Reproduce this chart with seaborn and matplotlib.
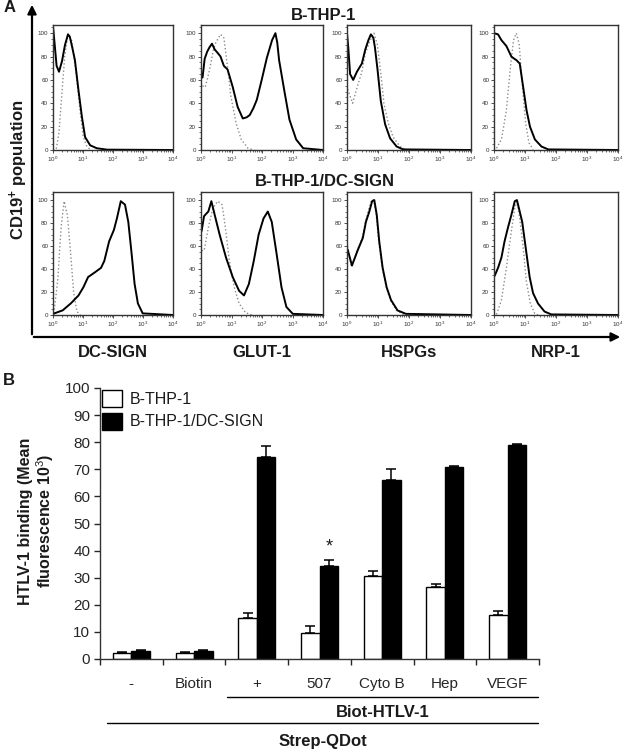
import numpy as np
import pandas as pd
import matplotlib
matplotlib.use("Agg")
import matplotlib.pyplot as plt
import matplotlib.transforms as mtransforms
from matplotlib.patches import FancyArrowPatch, Patch
from matplotlib.ticker import MultipleLocator
import seaborn as sns

# ---------------- Panel A data (x in log10 fluorescence, y in % of max) ----------------
thp_dcsign_solid_x = [0.0, 0.05, 0.12, 0.2, 0.3, 0.4, 0.5, 0.56, 0.64, 0.73, 0.85, 0.96, 1.07, 1.24, 1.46, 1.8, 4.0]
thp_dcsign_solid_y = [106, 92, 72, 67, 76, 90, 99, 97, 88, 77, 51, 29, 11, 4, 1.5, 0.3, 0]
thp_dcsign_dot_x = [0.11, 0.2, 0.28, 0.39, 0.5, 0.55, 0.62, 0.77, 0.9, 1.01, 1.13, 1.24]
thp_dcsign_dot_y = [1, 15, 43, 80, 99, 97, 94, 66, 34, 11, 3, 0.5]

thp_glut_solid_x = [0.0, 0.05, 0.12, 0.2, 0.28, 0.36, 0.45, 0.55, 0.64, 0.75, 0.87, 1.04, 1.2, 1.37, 1.5,
                    1.6, 1.72, 1.83, 1.99, 2.16, 2.33, 2.44, 2.5, 2.56, 2.73, 2.9, 3.12, 3.35, 4.0]
thp_glut_solid_y = [66, 62, 78, 84, 88, 91, 86, 83, 80, 72, 69, 54, 37, 27, 28,
                    30, 36, 43, 60, 79, 94, 100, 92, 77, 51, 26, 9, 1.5, 0]
thp_glut_dot_x = [0.0, 0.08, 0.14, 0.22, 0.3, 0.4, 0.47, 0.55, 0.64, 0.75, 0.87, 0.98, 1.15, 1.32, 1.54, 1.75]
thp_glut_dot_y = [58, 54, 54, 62, 71, 85, 91, 95, 99, 96, 71, 46, 23, 9, 1.5, 0]

thp_hspg_solid_x = [0.0, 0.04, 0.1, 0.2, 0.32, 0.48, 0.59, 0.69, 0.77, 0.85, 0.9, 0.98, 1.09, 1.23, 1.39, 1.6, 1.81, 4.0]
thp_hspg_solid_y = [100, 88, 65, 60, 67, 74, 86, 94, 99, 96, 88, 70, 42, 22, 10, 3, 0.5, 0]
thp_hspg_dot_x = [0.02, 0.18, 0.32, 0.48, 0.59, 0.75, 0.87, 0.98, 1.09, 1.19, 1.33, 1.49, 1.71, 1.92]
thp_hspg_dot_y = [52, 40, 53, 67, 83, 94, 100, 90, 66, 40, 23, 11, 3, 0]

thp_nrp_solid_x = [0.0, 0.13, 0.24, 0.4, 0.56, 0.66, 0.72, 0.83, 0.94, 1.05, 1.16, 1.32, 1.53, 1.75, 4.0]
thp_nrp_solid_y = [100, 99, 94, 89, 80, 78, 77, 74, 54, 34, 20, 9, 3, 0.5, 0]
thp_nrp_dot_x = [0.08, 0.24, 0.4, 0.53, 0.63, 0.72, 0.81, 0.91, 1.02, 1.13, 1.26]
thp_nrp_dot_y = [1.5, 9, 34, 71, 94, 100, 91, 57, 23, 6, 0.5]

dc_dcsign_solid_x = [0.0, 0.32, 0.59, 0.85, 1.01, 1.17, 1.39, 1.6, 1.71, 1.87, 2.03, 2.13, 2.26, 2.4,
                     2.51, 2.61, 2.72, 2.83, 2.99, 4.0]
dc_dcsign_solid_y = [1, 4, 10, 17, 24, 33, 37, 41, 47, 64, 74, 84, 99, 96, 81, 56, 27, 10, 1.4, 0]
dc_dcsign_dot_x = [0.03, 0.16, 0.27, 0.37, 0.48, 0.59, 0.69, 0.8, 0.91]
dc_dcsign_dot_y = [1.4, 31, 76, 99, 87, 53, 19, 3, 0]

dc_glut_solid_x = [0.02, 0.1, 0.24, 0.34, 0.45, 0.61, 0.82, 1.04, 1.25, 1.41, 1.57, 1.73, 1.89, 2.05,
                   2.19, 2.32, 2.48, 2.64, 2.8, 3.01, 4.0]
dc_glut_solid_y = [73, 86, 90, 99, 87, 70, 50, 33, 21, 17, 27, 47, 70, 84, 90, 81, 53, 24, 7, 1, 0]
dc_glut_dot_x = [0.02, 0.1, 0.24, 0.39, 0.55, 0.69, 0.8, 0.93, 1.09, 1.25, 1.46, 1.67]
dc_glut_dot_y = [56, 56, 76, 93, 99, 96, 76, 47, 24, 10, 2, 0]

dc_hspg_solid_x = [0.02, 0.16, 0.34, 0.51, 0.61, 0.72, 0.81, 0.88, 0.96, 1.04, 1.15, 1.28, 1.42, 1.63, 1.9, 4.0]
dc_hspg_solid_y = [57, 43, 56, 67, 81, 90, 99, 100, 87, 64, 41, 24, 13, 4, 1, 0]
dc_hspg_dot_x = [0.02, 0.14, 0.32, 0.5, 0.6, 0.7, 0.79, 0.86, 0.94, 1.02, 1.13, 1.26, 1.4, 1.6, 1.85]
dc_hspg_dot_y = [60, 42, 55, 68, 82, 92, 100, 100, 88, 65, 42, 25, 13, 4, 0]

dc_nrp_solid_x = [0.02, 0.13, 0.24, 0.34, 0.45, 0.56, 0.67, 0.74, 0.83, 0.91, 1.02, 1.15, 1.26, 1.42, 1.63, 1.85, 4.0]
dc_nrp_solid_y = [34, 41, 50, 64, 76, 87, 99, 100, 90, 81, 59, 33, 19, 10, 3, 0.5, 0]
dc_nrp_dot_x = [0.08, 0.24, 0.4, 0.56, 0.67, 0.74, 0.83, 0.94, 1.04, 1.17, 1.31, 1.42]
dc_nrp_dot_y = [0.5, 13, 41, 73, 93, 99, 84, 59, 30, 10, 1.5, 0]

markers = ["DC-SIGN", "GLUT-1", "HSPGs", "NRP-1"]
row_titles = ["B-THP-1", "B-THP-1/DC-SIGN"]
hist_xticks = [1, 10, 100, 1000, 10000]
hist_xticklabels = [r"$10^{0}$", r"$10^{1}$", r"$10^{2}$", r"$10^{3}$", r"$10^{4}$"]
hist_yticks = [0, 20, 40, 60, 80, 100]

# ---------------- Panel B data ----------------
treatments = ["-", "Biotin", "+", "507", "Cyto B", "Hep", "VEGF"]
cells = ["B-THP-1", "B-THP-1/DC-SIGN"]
bthp1 = [2.3, 2.2, 15.3, 9.6, 30.6, 26.6, 16.2]
bthp1_err = [0.4, 0.3, 1.5, 2.4, 2.0, 1.2, 1.4]
dcsign = [2.8, 3.1, 74.5, 34.5, 66.0, 70.8, 79.0]
dcsign_err = [0.6, 0.4, 4.2, 2.2, 4.0, 0.5, 0.4]
b_yticks = list(range(0, 101, 10))

# ---------------- Style ----------------
sns.set_theme(style="ticks")
plt.rcParams["font.family"] = ["Liberation Sans", "DejaVu Sans"]
plt.rcParams["mathtext.fontset"] = "custom"
plt.rcParams["mathtext.rm"] = "Liberation Sans"
plt.rcParams["mathtext.bf"] = "Liberation Sans:bold"
plt.rcParams["mathtext.it"] = "Liberation Sans:italic"
plt.rcParams["text.color"] = "#1a1a1a"

W, H = 624, 751
fig = plt.figure(figsize=(W / 100, H / 100), dpi=100)


def ax_px(left, top, width, height):
    return fig.add_axes([left / W, 1 - (top + height) / H, width / W, height / H])


def hist_panel(ax, sx, sy, dx, dy):
    ax.set_xscale("log")
    sns.lineplot(x=10 ** np.array(dx), y=dy, ax=ax, color="#8c8c8c", lw=1.0,
                 linestyle=":", sort=False, estimator=None)
    sns.lineplot(x=10 ** np.array(sx), y=sy, ax=ax, color="black", lw=1.4,
                 sort=False, estimator=None)
    ax.set_xlim(1, 1e4)
    ax.set_ylim(0, 107)
    ax.set_xticks(hist_xticks)
    ax.set_xticklabels(hist_xticklabels)
    ax.set_yticks(hist_yticks)
    ax.yaxis.set_minor_locator(MultipleLocator(5))
    ax.tick_params(which="major", labelsize=4.5, length=2.5, width=0.6, pad=1, colors="#333333")
    ax.tick_params(which="minor", length=1.5, width=0.5, colors="#333333")
    ax.set_xlabel("")
    ax.set_ylabel("")
    for s in ax.spines.values():
        s.set_color("#333333")
        s.set_linewidth(1.0)


lefts = [53, 201, 347, 494]
widths = [120, 122, 124, 124]
rows = [
    (25, 125, [(thp_dcsign_solid_x, thp_dcsign_solid_y, thp_dcsign_dot_x, thp_dcsign_dot_y),
               (thp_glut_solid_x, thp_glut_solid_y, thp_glut_dot_x, thp_glut_dot_y),
               (thp_hspg_solid_x, thp_hspg_solid_y, thp_hspg_dot_x, thp_hspg_dot_y),
               (thp_nrp_solid_x, thp_nrp_solid_y, thp_nrp_dot_x, thp_nrp_dot_y)]),
    (192, 123, [(dc_dcsign_solid_x, dc_dcsign_solid_y, dc_dcsign_dot_x, dc_dcsign_dot_y),
                (dc_glut_solid_x, dc_glut_solid_y, dc_glut_dot_x, dc_glut_dot_y),
                (dc_hspg_solid_x, dc_hspg_solid_y, dc_hspg_dot_x, dc_hspg_dot_y),
                (dc_nrp_solid_x, dc_nrp_solid_y, dc_nrp_dot_x, dc_nrp_dot_y)]),
]
for top, height, curves in rows:
    for left, width, (sx, sy, dx, dy) in zip(lefts, widths, curves):
        ax = ax_px(left, top, width, height)
        hist_panel(ax, sx, sy, dx, dy)

# row titles and marker labels
fig.text(324 / W, 1 - 16 / H, row_titles[0], ha="center", va="center", fontsize=12, fontweight="bold")
fig.text(325 / W, 1 - 181 / H, row_titles[1], ha="center", va="center", fontsize=12, fontweight="bold")
for left, width, m in zip(lefts, widths, markers):
    fig.text((left + width / 2) / W, 1 - 353 / H, m, ha="center", va="center", fontsize=12, fontweight="bold")

# axis arrows for panel A
fig.add_artist(FancyArrowPatch((32 / W, 1 - 337 / H), (32 / W, 1 - 2 / H), transform=fig.transFigure,
                               arrowstyle="-|>", mutation_scale=13, lw=1.6, color="black"))
fig.add_artist(FancyArrowPatch((31 / W, 1 - 337 / H), (623 / W, 1 - 337 / H), transform=fig.transFigure,
                               arrowstyle="-|>", mutation_scale=13, lw=1.6, color="black"))
fig.text(19 / W, 1 - 170 / H, r"CD19$^{\mathbf{+}}$ population", rotation=90, ha="center", va="center",
         fontsize=12, fontweight="bold")
fig.text(4 / W, 1 - 8 / H, "A", ha="left", va="center", fontsize=12, fontweight="bold")
fig.text(3 / W, 1 - 381 / H, "B", ha="left", va="center", fontsize=12, fontweight="bold")

# ---------------- Panel B ----------------
axb = ax_px(100, 388, 439, 271)
df = pd.DataFrame({
    "treatment": treatments * 2,
    "value": bthp1 + dcsign,
    "cell": [cells[0]] * len(treatments) + [cells[1]] * len(treatments),
})
sns.barplot(data=df, x="treatment", y="value", hue="cell", order=treatments, hue_order=cells,
            palette=["white", "black"], edgecolor="black", linewidth=1.0, errorbar=None,
            width=0.59, ax=axb, legend=False)
for cont, errs in zip(axb.containers, [bthp1_err, dcsign_err]):
    xs = [p.get_x() + p.get_width() / 2 for p in cont]
    ys = [p.get_height() for p in cont]
    axb.errorbar(xs, ys, yerr=[np.zeros(len(errs)), errs], fmt="none", ecolor="black",
                 elinewidth=1.1, capsize=3.5, capthick=1.1, zorder=0.5)

# significance star above 507 black bar
c507 = treatments.index("507")
p = axb.containers[1][c507]
axb.text(p.get_x() + p.get_width() / 2, dcsign[c507] + dcsign_err[c507] + 4.5, "*",
         ha="center", va="center", fontsize=13)

axb.set_xlim(-0.5, len(treatments) - 0.5)
axb.set_ylim(0, 100)
axb.set_yticks(b_yticks)
axb.set_xticks(np.arange(-0.5, len(treatments), 1.0))
axb.set_xticklabels([])
axb.set_xticks(range(len(treatments)), minor=True)
axb.set_xticklabels(treatments, minor=True)
axb.tick_params(axis="x", which="minor", length=0, pad=13, labelsize=11)
axb.tick_params(axis="x", which="major", length=4, width=1.0, direction="out")
axb.tick_params(axis="y", which="major", length=4, width=1.0, labelsize=11, pad=3)
axb.set_xlabel("")
axb.set_ylabel("")
sns.despine(ax=axb)
for s in ["left", "bottom"]:
    axb.spines[s].set_linewidth(1.0)
    axb.spines[s].set_color("#333333")

axb.legend(handles=[Patch(facecolor="white", edgecolor="black", lw=1.0),
                    Patch(facecolor="black", edgecolor="black", lw=1.0)],
           labels=cells, loc="upper left", bbox_to_anchor=(0.0, 0.998), frameon=False,
           fontsize=11.5, handlelength=1.25, handleheight=1.25, labelspacing=0.35,
           handletextpad=0.5, borderaxespad=0, borderpad=0.1)

# group brackets below the x axis
trans = mtransforms.blended_transform_factory(axb.transData, axb.transAxes)
axb.plot([1.53, 6.49], [-0.140, -0.140], transform=trans, clip_on=False, color="black", lw=1.0)
axb.text((1.53 + 6.49) / 2, -0.199, "Biot-HTLV-1", transform=trans, ha="center", va="center",
         fontsize=12, fontweight="bold")
axb.plot([-0.39, 6.49], [-0.236, -0.236], transform=trans, clip_on=False, color="black", lw=1.0)
axb.text((-0.39 + 6.49) / 2, -0.306, "Strep-QDot", transform=trans, ha="center", va="center",
         fontsize=12, fontweight="bold")

fig.text(37 / W, 1 - 521 / H, "HTLV-1 binding (Mean\nfluorescence 10$^{3}$)", rotation=90,
         ha="center", va="center", multialignment="center", fontsize=11.5, fontweight="bold",
         linespacing=1.1)

fig.savefig("out.png", dpi=100)
